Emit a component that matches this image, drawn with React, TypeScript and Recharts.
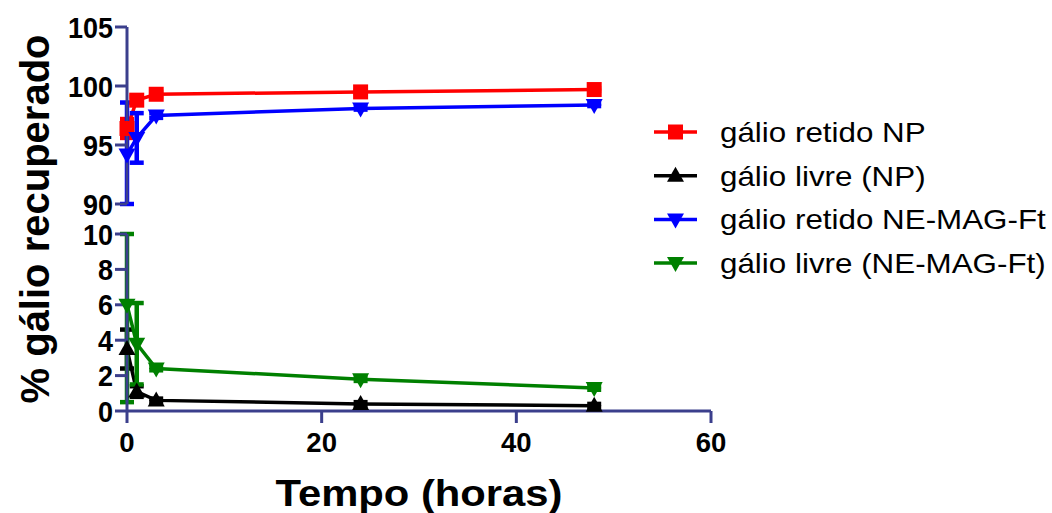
import React from "react";
import { LineChart, Line, XAxis, YAxis, ErrorBar, Legend, Label } from "recharts";

// tempo de coleta (horas)
const hours = [0, 1, 3, 24, 48];

// % recuperado, média e erro [inferior, superior]
const retidoNP = [96.4, 98.8, 99.3, 99.5, 99.7];
const retidoNPErr = [[0.8, 0.8], [0.3, 0.3], [0.2, 0.2], [0.1, 0.1], [0.1, 0.1]];

const livreNP = [3.5, 1.1, 0.6, 0.4, 0.3];
const livreNPErr = [[1.1, 1.1], [0.3, 0.3], [0.1, 0.1], [0.1, 0.1], [0.1, 0.1]];

const retidoNE = [94.2, 95.6, 97.5, 98.1, 98.4];
const retidoNEErr = [[4.2, 4.4], [2.1, 2.1], [0.2, 0.2], [0.1, 0.1], [0.1, 0.1]];

const livreNE = [6.0, 3.8, 2.4, 1.8, 1.3];
const livreNEErr = [[5.5, 4.0], [2.3, 2.3], [0.1, 0.1], [0.1, 0.1], [0.1, 0.1]];

const xTicks = [0, 20, 40, 60];
const topTicks = [90, 95, 100, 105];
const bottomTicks = [0, 2, 4, 6, 8, 10];

type Shape = "square" | "up" | "down";

const series = [
  { key: "retidoNP", name: "gálio retido NP", color: "#ff0000", shape: "square" as Shape },
  { key: "livreNP", name: "gálio livre (NP)", color: "#000000", shape: "up" as Shape },
  { key: "retidoNE", name: "gálio retido NE-MAG-Ft", color: "#0000ff", shape: "down" as Shape },
  { key: "livreNE", name: "gálio livre (NE-MAG-Ft)", color: "#008000", shape: "down" as Shape },
];

const data = hours.map((t, i) => ({
  t,
  retidoNP: retidoNP[i],
  retidoNPErr: retidoNPErr[i],
  livreNP: livreNP[i],
  livreNPErr: livreNPErr[i],
  retidoNE: retidoNE[i],
  retidoNEErr: retidoNEErr[i],
  livreNE: livreNE[i],
  livreNEErr: livreNEErr[i],
}));

const W = 1052;
const H = 513;
const AXIS = "#3b3f8c";
const FONT = "'Liberation Sans', Arial, sans-serif";
const PLOT_LEFT = 127;
const PLOT_RIGHT = 341;
const TOP_Y0 = 27;
const TOP_Y1 = 204;
const BOT_Y0 = 234;
const BOT_Y1 = 411;

function markerPath(shape: Shape, cx: number, cy: number) {
  if (shape === "square") {
    return `M${cx - 7.5},${cy - 7.5}h15v15h-15z`;
  }
  if (shape === "up") {
    return `M${cx},${cy - 9}L${cx + 8.5},${cy + 6}L${cx - 8.5},${cy + 6}z`;
  }
  return `M${cx},${cy + 9}L${cx + 8.5},${cy - 6}L${cx - 8.5},${cy - 6}z`;
}

const makeDot = (shape: Shape, color: string) => (p: any) => {
  if (p.cx == null || p.cy == null) return <g key={`d-${p.index}`} />;
  return <path key={`d-${p.index}`} d={markerPath(shape, p.cx, p.cy)} fill={color} stroke="none" />;
};

const YTick = (p: any) => (
  <text
    transform={`translate(${p.x},${p.y}) scale(1,1.08)`}
    textAnchor="end"
    dy="0.36em"
    fontSize={27}
    fontWeight={700}
    fontFamily={FONT}
    fill="#000"
  >
    {p.payload.value}
  </text>
);

const XTick = (p: any) => (
  <text
    transform={`translate(${p.x},${p.y}) scale(1.1,1.1)`}
    textAnchor="middle"
    dy="0.71em"
    fontSize={25}
    fontWeight={700}
    fontFamily={FONT}
    fill="#000"
  >
    {p.payload.value}
  </text>
);

const LegendBox = () => (
  <svg width={412} height={180} style={{ display: "block" }}>
    {series.map((s, i) => {
      const cy = 22 + i * 43.7;
      return (
        <g key={s.key}>
          <line x1={14} x2={57} y1={cy} y2={cy} stroke={s.color} strokeWidth={3.5} />
          <path d={markerPath(s.shape, 35.5, cy)} fill={s.color} />
          <text
            transform={`translate(80,${cy}) scale(1.12,1)`}
            dy="0.36em"
            fontSize={28}
            fontFamily={FONT}
            fill="#000"
          >
            {s.name}
          </text>
        </g>
      );
    })}
  </svg>
);

function renderLine(s: (typeof series)[number]) {
  return (
    <Line
      key={s.key}
      type="linear"
      dataKey={s.key}
      name={s.name}
      stroke={s.color}
      strokeWidth={3.5}
      dot={makeDot(s.shape, s.color)}
      activeDot={false}
      isAnimationActive={false}
    >
      <ErrorBar
        dataKey={`${s.key}Err`}
        direction="y"
        width={7}
        stroke={s.color}
        strokeWidth={4.5}
        isAnimationActive={false}
      />
    </Line>
  );
}

export default function App() {
  const axisProps = {
    stroke: AXIS,
    strokeWidth: 3,
    tickLine: { stroke: AXIS, strokeWidth: 3 },
    axisLine: { stroke: AXIS, strokeWidth: 3 },
  };

  return (
    <div style={{ position: "absolute", left: 0, top: 0, width: W, height: H, background: "#fff" }}>
      {/* segmento superior: 90–105 */}
      <div style={{ position: "absolute", left: 0, top: 0 }}>
        <LineChart
          width={W}
          height={H}
          data={data}
          margin={{ top: TOP_Y0, right: PLOT_RIGHT, bottom: H - TOP_Y1, left: 0 }}
        >
          <XAxis type="number" dataKey="t" domain={[0, 60]} ticks={xTicks} hide />
          <YAxis
            {...axisProps}
            width={PLOT_LEFT}
            type="number"
            domain={[90, 105]}
            ticks={topTicks}
            interval={0}
            tickSize={12}
            tickMargin={2}
            tick={<YTick />}
          >
            <Label
              content={() => (
                <text
                  x={35}
                  y={(TOP_Y0 + BOT_Y1) / 2}
                  transform={`rotate(-90 35 ${(TOP_Y0 + BOT_Y1) / 2})`}
                  textAnchor="middle"
                  dominantBaseline="central"
                  fontSize={40}
                  fontWeight={700}
                  fontFamily={FONT}
                  fill="#000"
                >
                  % gálio recuperado
                </text>
              )}
            />
          </YAxis>
          {renderLine(series[0])}
          {renderLine(series[2])}
          <Legend
            layout="vertical"
            align="center"
            verticalAlign="middle"
            wrapperStyle={{ left: 640, top: 110, width: 412, height: 180 }}
            content={() => <LegendBox />}
          />
        </LineChart>
      </div>

      {/* segmento inferior: 0–10 */}
      <div style={{ position: "absolute", left: 0, top: 0 }}>
        <LineChart
          width={W}
          height={H}
          data={data}
          margin={{ top: BOT_Y0, right: PLOT_RIGHT, bottom: 0, left: 0 }}
        >
          <XAxis
            {...axisProps}
            type="number"
            dataKey="t"
            domain={[0, 60]}
            ticks={xTicks}
            interval={0}
            height={H - BOT_Y1}
            tickSize={12}
            tickMargin={9}
            tick={<XTick />}
          >
            <Label
              content={() => (
                <text
                  x={PLOT_LEFT + (W - PLOT_RIGHT - PLOT_LEFT) / 2}
                  y={506}
                  textAnchor="middle"
                  textLength={287}
                  lengthAdjust="spacingAndGlyphs"
                  fontSize={36}
                  fontWeight={700}
                  fontFamily={FONT}
                  fill="#000"
                >
                  Tempo (horas)
                </text>
              )}
            />
          </XAxis>
          <YAxis
            {...axisProps}
            width={PLOT_LEFT}
            type="number"
            domain={[0, 10]}
            ticks={bottomTicks}
            interval={0}
            tickSize={12}
            tickMargin={2}
            tick={<YTick />}
          />
          {renderLine(series[1])}
          {renderLine(series[3])}
        </LineChart>
      </div>
    </div>
  );
}
